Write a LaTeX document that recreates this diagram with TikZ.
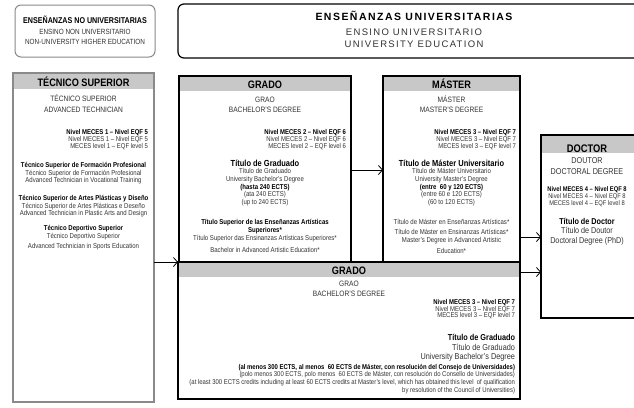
\documentclass[tikz,border=0pt]{standalone}
\usepackage{fontspec}
\setmainfont{Liberation Sans}[FakeStretch=0.85]
\newfontfamily\spacedfont{Liberation Sans}[LetterSpace=14]
\usetikzlibrary{arrows.meta,calc}
\definecolor{hgray}{HTML}{C8C8C8}
\definecolor{bgray}{HTML}{8A8A8A}
\definecolor{tgray}{HTML}{333333}
\newcommand\fsz[1]{\fontsize{#1}{#1}\selectfont}
\tikzset{
  box/.style={draw=#1, line width=1.2pt, inner sep=0pt, outer sep=0pt, anchor=north west},
  hdr/.style={path picture={\fill[hgray] (path picture bounding box.north west) rectangle ([yshift=-#1]path picture bounding box.north east);}},
  tx/.style={inner sep=0pt, outer sep=0pt, anchor=base, text=tgray},
  txr/.style={tx, anchor=base east},
  hd/.style={tx, text=black, font=\bfseries\fsz{10.8}},
  sub/.style={tx, font=\fsz{7.8}},
  nb/.style={txr, text=black, font=\bfseries\fsz{7}},
  nr/.style={txr, font=\fsz{7}},
  bb/.style={tx, text=black, font=\bfseries\fsz{7.1}},
  br/.style={tx, font=\fsz{7.1}},
  tt/.style={tx, text=black, font=\bfseries\fsz{8.8}},
  arr/.style={draw=black, line width=0.8pt, -{Straight Barb[length=4pt,width=9pt,line width=0.8pt]}}
}
\begin{document}
\begin{tikzpicture}[x=1pt,y=-1pt]
\clip (0,0) rectangle (634,407);
\fill[white] (0,0) rectangle (634,407);
% top left box
\node[box=bgray, rounded corners=6pt, line width=1pt, minimum width=140pt, minimum height=52pt] (nu) at (15,5) {};
\node[tx, text=black, font=\bfseries\fsz{8.4}] (nu1) at (85,23) {ENSEÑANZAS NO UNIVERSITARIAS};
\node[tx, font=\fsz{7.5}] (nu2) at (85,34) {ENSINO NON UNIVERSITARIO};
\node[tx, font=\fsz{7.5}] (nu3) at (85,44.5) {NON-UNIVERSITY HIGHER EDUCATION};
% top right box
\node[box=black, rounded corners=6pt, minimum width=482pt, minimum height=54pt] (un) at (178,4) {};
\node[tx, text=black, font=\spacedfont\bfseries\fsz{10.5}] (un1) at (414,20) {ENSEÑANZAS UNIVERSITARIAS};
\node[tx, font=\spacedfont\fsz{9.5}] (un2) at (414,35) {ENSINO UNIVERSITARIO};
\node[tx, font=\spacedfont\fsz{9.5}] (un3) at (414,47) {UNIVERSITY EDUCATION};
% tecnico superior
\node[box=bgray, hdr=16pt, minimum width=141pt, minimum height=329pt] (tec) at (13,73) {};
\node[hd] (tec1) at (83.5,86) {TÉCNICO SUPERIOR};
\node[sub] (tec2) at (83.5,101) {TÉCNICO SUPERIOR};
\node[sub] (tec3) at (83.5,112) {ADVANCED TECHNICIAN};
\node[nb] (tec4) at (148,134.5) {Nivel MECES 1 – Nivel EQF 5};
\node[nr] (tec5) at (148,141.5) {Nivel MECES 1 – Nivel EQF 5};
\node[nr] (tec6) at (148,148.5) {MECES level 1 – EQF level 5};
\node[bb] (tec7) at (83.5,167.5) {Técnico Superior de Formación Profesional};
\node[br] (tec8) at (83.5,175.5) {Técnico Superior de Formación Profesional};
\node[br] (tec9) at (83.5,182.5) {Advanced Technician in Vocational Training};
\node[bb] (tec10) at (83.5,200.5) {Técnico Superior de Artes Plásticas y Diseño};
\node[br] (tec11) at (83.5,208.5) {Técnico Superior de Artes Plásticas e Deseño};
\node[br] (tec12) at (83.5,215.5) {Advanced Technician in Plastic Arts and Design};
\node[bb] (tec13) at (83.5,230.5) {Técnico Deportivo Superior};
\node[br] (tec14) at (83.5,238.5) {Técnico Deportivo Superior};
\node[br] (tec15) at (83.5,248.5) {Advanced Technician in Sports Education};
% grado
\node[box=black, hdr=15pt, minimum width=172pt, minimum height=186pt] (grado) at (179,76) {};
\node[hd] (gr1) at (265,88) {GRADO};
\node[sub] (gr2) at (265,102) {GRAO};
\node[sub] (gr3) at (265,112) {BACHELOR'S DEGREE};
\node[nb] (gr4) at (346,134.5) {Nivel MECES 2 – Nivel EQF 6};
\node[nr] (gr5) at (346,141.5) {Nivel MECES 2 – Nivel EQF 6};
\node[nr] (gr6) at (346,148.5) {MECES level 2 – EQF level 6};
\node[tt] (gr7) at (265,166) {Título de Graduado};
\node[br] (gr8) at (265,173.5) {Título de Graduado};
\node[br] (gr9) at (265,181.5) {University Bachelor's Degree};
\node[bb] (gr10) at (265,189.5) {(hasta 240 ECTS)};
\node[br] (gr11) at (265,196.5) {(ata 240 ECTS)};
\node[br] (gr12) at (265,204.5) {(up to 240 ECTS)};
\node[bb] (gr13) at (265,224.5) {Título Superior de las Enseñanzas Artísticas};
\node[bb] (gr14) at (265,232.5) {Superiores*};
\node[br] (gr15) at (265,240.5) {Título Superior das Ensinanzas Artísticas Superiores*};
\node[br] (gr16) at (265,252.5) {Bachelor in Advanced Artistic Education*};
% master
\node[box=black, hdr=15pt, minimum width=137pt, minimum height=186pt] (master) at (383,76) {};
\node[hd] (ms1) at (451.5,88) {MÁSTER};
\node[sub] (ms2) at (451.5,102) {MÁSTER};
\node[sub] (ms3) at (451.5,112) {MASTER'S DEGREE};
\node[nb] (ms4) at (516,134.5) {Nivel MECES 3 – Nivel EQF 7};
\node[nr] (ms5) at (516,141.5) {Nivel MECES 3 – Nivel EQF 7};
\node[nr] (ms6) at (516,148.5) {MECES level 3 – EQF level 7};
\node[tt] (ms7) at (451.5,166) {Título de Máster Universitario};
\node[br] (ms8) at (451.5,173.5) {Título de Máster Universitario};
\node[br] (ms9) at (451.5,181.5) {University Master's Degree};
\node[bb] (ms10) at (451.5,189.5) {(entre ~60 y 120 ECTS)};
\node[br] (ms11) at (451.5,196.5) {(entre 60 e 120 ECTS)};
\node[br] (ms12) at (451.5,204.5) {(60 to 120 ECTS)};
\node[br] (ms13) at (451.5,224.5) {Título de Máster en Enseñanzas Artísticas*};
\node[br] (ms14) at (451.5,234) {Título de Máster en Ensinanzas Artísticas*};
\node[br] (ms15) at (451.5,242) {Master's Degree in Advanced Artistic};
\node[br] (ms16) at (451.5,253.5) {Education*};
% doctor
\node[box=black, hdr=18pt, minimum width=120pt, minimum height=183pt] (doc) at (541,135) {};
\node[tx, text=black, font=\bfseries\fsz{11}] (dc1) at (587,152) {DOCTOR};
\node[tx, font=\fsz{8.5}] (dc2) at (587,163) {DOUTOR};
\node[tx, font=\fsz{8.5}] (dc3) at (587,174) {DOCTORAL DEGREE};
\node[tx, text=black, font=\bfseries\fsz{6.8}] (dc4) at (587,191) {Nivel MECES 4 – Nivel EQF 8};
\node[tx, font=\fsz{6.8}] (dc5) at (587,198) {Nivel MECES 4 – Nivel EQF 8};
\node[tx, font=\fsz{6.8}] (dc6) at (587,205) {MECES level 4 – EQF level 8};
\node[tx, text=black, font=\bfseries\fsz{8.5}] (dc7) at (587,224) {Título de Doctor};
\node[tx, font=\fsz{8.5}] (dc8) at (587,233) {Título de Doutor};
\node[tx, font=\fsz{8.5}] (dc9) at (587,243) {Doctoral Degree (PhD)};
% grado (300 ECTS)
\node[box=black, hdr=15pt, minimum width=342pt, minimum height=137pt] (g2) at (178,262) {};
\node[hd] (g21) at (349,274.5) {GRADO};
\node[sub] (g22) at (349,286) {GRAO};
\node[sub] (g23) at (349,296) {BACHELOR'S DEGREE};
\node[nb] (g24) at (515,304.5) {Nivel MECES 3 – Nivel EQF 7};
\node[nr] (g25) at (515,311.5) {Nivel MECES 3 – Nivel EQF 7};
\node[nr] (g26) at (515,317.5) {MECES level 3 – EQF level 7};
\node[txr, text=black, font=\bfseries\fsz{8.6}] (g27) at (515,340) {Título de Graduado};
\node[txr, font=\fsz{8.6}] (g28) at (515,350) {Título de Graduado};
\node[txr, font=\fsz{8.6}] (g29) at (515,359) {University Bachelor's Degree};
\node[nb] (g210) at (515,369.5) {(al menos 300 ECTS, al menos ~60 ECTS de Máster, con resolución del Consejo de Universidades)};
\node[nr] (g211) at (515,376.5) {(polo menos 300 ECTS, polo menos ~60 ECTS de Máster, con resolución do Consello de Universidades)};
\node[nr] (g212) at (515,384.5) {(at least 300 ECTS credits including at least 60 ECTS credits at Master's level, which has obtained this level ~of qualification};
\node[nr] (g213) at (515,392.5) {by resolution of the Council of Universities)};
% arrows
\draw[arr] (tec.east |- g2.north west) -- (g2.north west);
\draw[arr] ([yshift=-1pt]grado.east) -- ([yshift=-1pt]grado.east -| master.west);
\draw[arr] ([yshift=-68pt]master.east) -- ([yshift=-68pt]master.east -| doc.west);
\draw[arr] ([yshift=58.5pt]g2.east) -- ([yshift=58.5pt]g2.east -| doc.west);
\end{tikzpicture}
\end{document}
